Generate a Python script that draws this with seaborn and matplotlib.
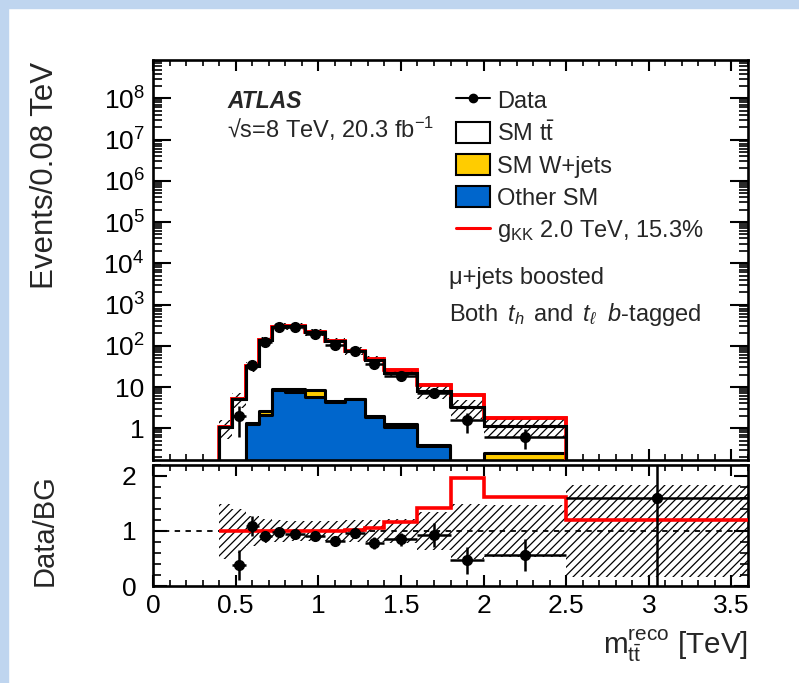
import numpy as np
import matplotlib
matplotlib.use("Agg")
import matplotlib.pyplot as plt
from matplotlib.patches import Rectangle, Patch
from matplotlib.lines import Line2D
from matplotlib.ticker import FixedLocator, MultipleLocator, NullFormatter, LogLocator, FixedFormatter
import seaborn as sns

# ---- binning (TeV) ----
bin_edges = [0.40, 0.48, 0.56, 0.64, 0.72, 0.80, 0.92, 1.04, 1.16, 1.28,
             1.40, 1.60, 1.80, 2.00, 2.50, 3.60]

# ---- expected backgrounds, events / 0.08 TeV ----
other_sm = [0.0, 0.0, 1.3, 2.1, 8.6, 7.5, 5.75, 4.3, 5.0, 1.85,
            1.05, 0.38, 0.05, 0.03, 0.005]
wjets = [0.0, 0.0, 0.05, 0.5, 0.4, 1.4, 2.9, 0.2, 0.25, 0.1,
         0.2, 0.02, 0.02, 0.22, 0.003]
ttbar = [1.08, 5.2, 30.65, 135.4, 283.0, 291.1, 206.35, 123.5, 70.75, 44.05,
         20.75, 7.4, 3.23, 0.87, 0.037]
# relative systematic uncertainty on the total background
bkg_rel_unc = [0.50, 0.40, 0.27, 0.21, 0.20, 0.19, 0.19, 0.19, 0.20, 0.20,
               0.22, 0.35, 0.50, 0.48, 0.84]

# ---- KK gluon signal (2.0 TeV, width 15.3%) ----
gkk_signal = [0.005, 0.02, 0.1, 0.4, 0.8, 0.9, 0.8, 0.5, 0.8, 2.3,
              3.5, 3.2, 3.2, 0.69, 0.009]

# ---- data, events / 0.08 TeV (first bin empty) ----
data_vals = [np.nan, 2.0, 35.0, 126.0, 289.0, 285.0, 196.0, 104.0, 73.7, 36.0,
             18.7, 7.25, 1.55, 0.63, 0.072]
data_errs = [np.nan, 1.4, 5.9, 11.2, 17.0, 13.8, 11.4, 8.3, 7.0, 4.9,
             2.7, 1.7, 0.8, 0.32, 0.073]

xtick_vals = [0, 0.5, 1, 1.5, 2, 2.5, 3, 3.5]
xtick_text = ["0", "0.5", "1", "1.5", "2", "2.5", "3", "3.5"]
ytick_vals = [1, 10, 1e2, 1e3, 1e4, 1e5, 1e6, 1e7, 1e8]
ytick_text = ["1", "10", "$10^{2}$", "$10^{3}$", "$10^{4}$", "$10^{5}$",
              "$10^{6}$", "$10^{7}$", "$10^{8}$"]

# ---- style ----
sns.set_theme(style="ticks")
plt.rcParams["font.family"] = ["Liberation Sans", "DejaVu Sans"]
plt.rcParams["mathtext.fontset"] = "custom"
plt.rcParams["mathtext.rm"] = "Liberation Sans"
plt.rcParams["mathtext.it"] = "Liberation Sans:italic"
plt.rcParams["mathtext.bf"] = "Liberation Sans:bold"
plt.rcParams["hatch.linewidth"] = 0.9
plt.rcParams["axes.linewidth"] = 1.9

BLUE = "#0066cc"
YELLOW = "#ffcc00"
RED = "#ff0000"

edges = np.array(bin_edges)
centers = 0.5 * (edges[1:] + edges[:-1])
half_w = 0.5 * (edges[1:] - edges[:-1])
other = np.array(other_sm)
wj = np.array(wjets)
tt = np.array(ttbar)
total = other + wj + tt
sig_total = total + np.array(gkk_signal)
unc = np.array(bkg_rel_unc)
dvals = np.array(data_vals)
derrs = np.array(data_errs)

W, H = 799, 683
fig = plt.figure(figsize=(W / 100, H / 100), dpi=100)
fig.patch.set_facecolor("white")
fig.patches.append(Rectangle((0, 0), 8 / W, 1, transform=fig.transFigure,
                             color="#bfd5ef", zorder=-5))
fig.patches.append(Rectangle((0, 1 - 8 / H), 1, 8 / H, transform=fig.transFigure,
                             color="#bfd5ef", zorder=-5))

x0, x1 = 153, 748
ax = fig.add_axes([x0 / W, 1 - 460 / H, (x1 - x0) / W, 400 / H])
rax = fig.add_axes([x0 / W, 1 - 586 / H, (x1 - x0) / W, 121 / H])

# ---- upper panel: stacked backgrounds ----
floor = 1e-4
ax.stairs(sig_total, edges, baseline=floor, color=RED, lw=2.6, zorder=1)
for vals, col in [(total, "white"), (other + wj, YELLOW), (other, BLUE)]:
    sns.histplot(x=centers, weights=vals, bins=bin_edges, element="step",
                 fill=True, color=col, alpha=1.0, edgecolor="black",
                 linewidth=2.2, ax=ax, zorder=2)
ax.fill_between(edges, np.append(total * (1 - unc), total[-1] * (1 - unc[-1])),
                np.append(total * (1 + unc), total[-1] * (1 + unc[-1])),
                step="post", facecolor="none", edgecolor="black", linewidth=0,
                hatch="////", zorder=3)
ax.stairs(total, edges, baseline=floor, color="black", lw=2.2, zorder=3.5)
ax.stairs(sig_total, edges, baseline=None, color=RED, lw=2.6, zorder=3.2)
ax.errorbar(centers, dvals, xerr=half_w, yerr=derrs, fmt="o", color="black",
            markersize=7, elinewidth=1.8, capsize=0, zorder=5)

ax.set_yscale("log")
ax.set_xlim(0, 3.6)
ax.set_ylim(0.17, 8.5e8)
ax.yaxis.set_major_locator(FixedLocator(ytick_vals))
ax.yaxis.set_major_formatter(FixedFormatter(ytick_text))
ax.yaxis.set_minor_locator(LogLocator(base=10, subs=np.arange(2, 10), numticks=40))
ax.yaxis.set_minor_formatter(NullFormatter())
ax.xaxis.set_major_locator(FixedLocator(xtick_vals))
ax.xaxis.set_minor_locator(MultipleLocator(0.1))
ax.set_xticklabels([])
ax.set_xlabel("")
ax.set_ylabel("")

# ---- lower panel: ratio ----
ratio = dvals / total
ratio_err = derrs / total
sig_ratio = sig_total / total
rax.fill_between(edges, np.append(1 - unc, 1 - unc[-1]), np.append(1 + unc, 1 + unc[-1]),
                 step="post", facecolor="none", edgecolor="black", linewidth=0,
                 hatch="////", zorder=1)
rax.axhline(1.0, color="black", lw=1.3, ls=(0, (3, 3)), zorder=2)
rax.stairs(sig_ratio, edges, baseline=None, color=RED, lw=2.6, zorder=3)
rax.errorbar(centers, ratio, xerr=half_w, yerr=ratio_err, fmt="o", color="black",
             markersize=7, elinewidth=1.8, capsize=0, zorder=5)
rax.set_xlim(0, 3.6)
rax.set_ylim(0, 2.2)
rax.yaxis.set_major_locator(FixedLocator([0, 1, 2]))
rax.yaxis.set_minor_locator(MultipleLocator(0.2))
rax.xaxis.set_major_locator(FixedLocator(xtick_vals))
rax.xaxis.set_major_formatter(FixedFormatter(xtick_text))
rax.xaxis.set_minor_locator(MultipleLocator(0.1))

for a in (ax, rax):
    a.tick_params(which="both", direction="in", top=True, right=True,
                  labelsize=19, colors="black")
    a.tick_params(axis="x", which="major", length=8, width=1.5, pad=6)
    a.tick_params(axis="x", which="minor", length=4.5, width=1.2)
    for s in a.spines.values():
        s.set_visible(True)
        s.set_color("black")
ax.tick_params(axis="y", which="major", length=13, width=1.5, pad=6)
ax.tick_params(axis="y", which="minor", length=6.5, width=1.2)
rax.tick_params(axis="y", which="major", length=10, width=1.5, pad=12)
rax.tick_params(axis="y", which="minor", length=5.5, width=1.2)

# ---- legend ----
handles = [
    Line2D([], [], color="black", marker="o", markersize=6, lw=1.5),
    Patch(facecolor="white", edgecolor="black", lw=1.5),
    Patch(facecolor=YELLOW, edgecolor="black", lw=1.5),
    Patch(facecolor=BLUE, edgecolor="black", lw=1.5),
    Line2D([], [], color=RED, lw=2.2),
]
labels = ["Data", r"SM $\mathrm{t\bar{t}}$", "SM W+jets", "Other SM",
          r"$\mathrm{g_{KK}}$ 2.0 TeV, 15.3%"]
fig.legend(handles, labels, loc="upper left",
           bbox_to_anchor=(456 / W, 1 - 89 / H), bbox_transform=fig.transFigure,
           frameon=False, fontsize=17, handlelength=1.45, handleheight=1.0,
           handletextpad=0.3, labelspacing=0.36, borderpad=0, borderaxespad=0)

# ---- annotations ----
fig.text(227 / W, 1 - 108 / H, "ATLAS", fontsize=16.5, fontweight="bold",
         fontstyle="italic", ha="left", va="baseline")
fig.text(227 / W, 1 - 138 / H, "√s=8 TeV, 20.3 fb$^{\\mathregular{-1}}$", fontsize=17,
         ha="left", va="baseline")
fig.text(449 / W, 1 - 284 / H, "μ+jets boosted", fontsize=17, ha="left", va="baseline")
fig.text(449 / W, 1 - 321 / H, r"Both $\,t_h\,$ and $\,t_\ell\;$ $b$-tagged", fontsize=17,
         ha="left", va="baseline")

fig.text(45 / W, 1 - 62 / H, "Events/0.08 TeV", rotation=90, fontsize=22.5,
         ha="center", va="top")
fig.text(45 / W, 1 - 530 / H, "Data/BG", rotation=90, fontsize=21,
         ha="center", va="center")
fig.text(748 / W, 1 - 654 / H, r"$\mathrm{m_{t\bar{t}}^{reco}}$ [TeV]", fontsize=21.3,
         ha="right", va="baseline")

fig.savefig("out.png", dpi=100)
